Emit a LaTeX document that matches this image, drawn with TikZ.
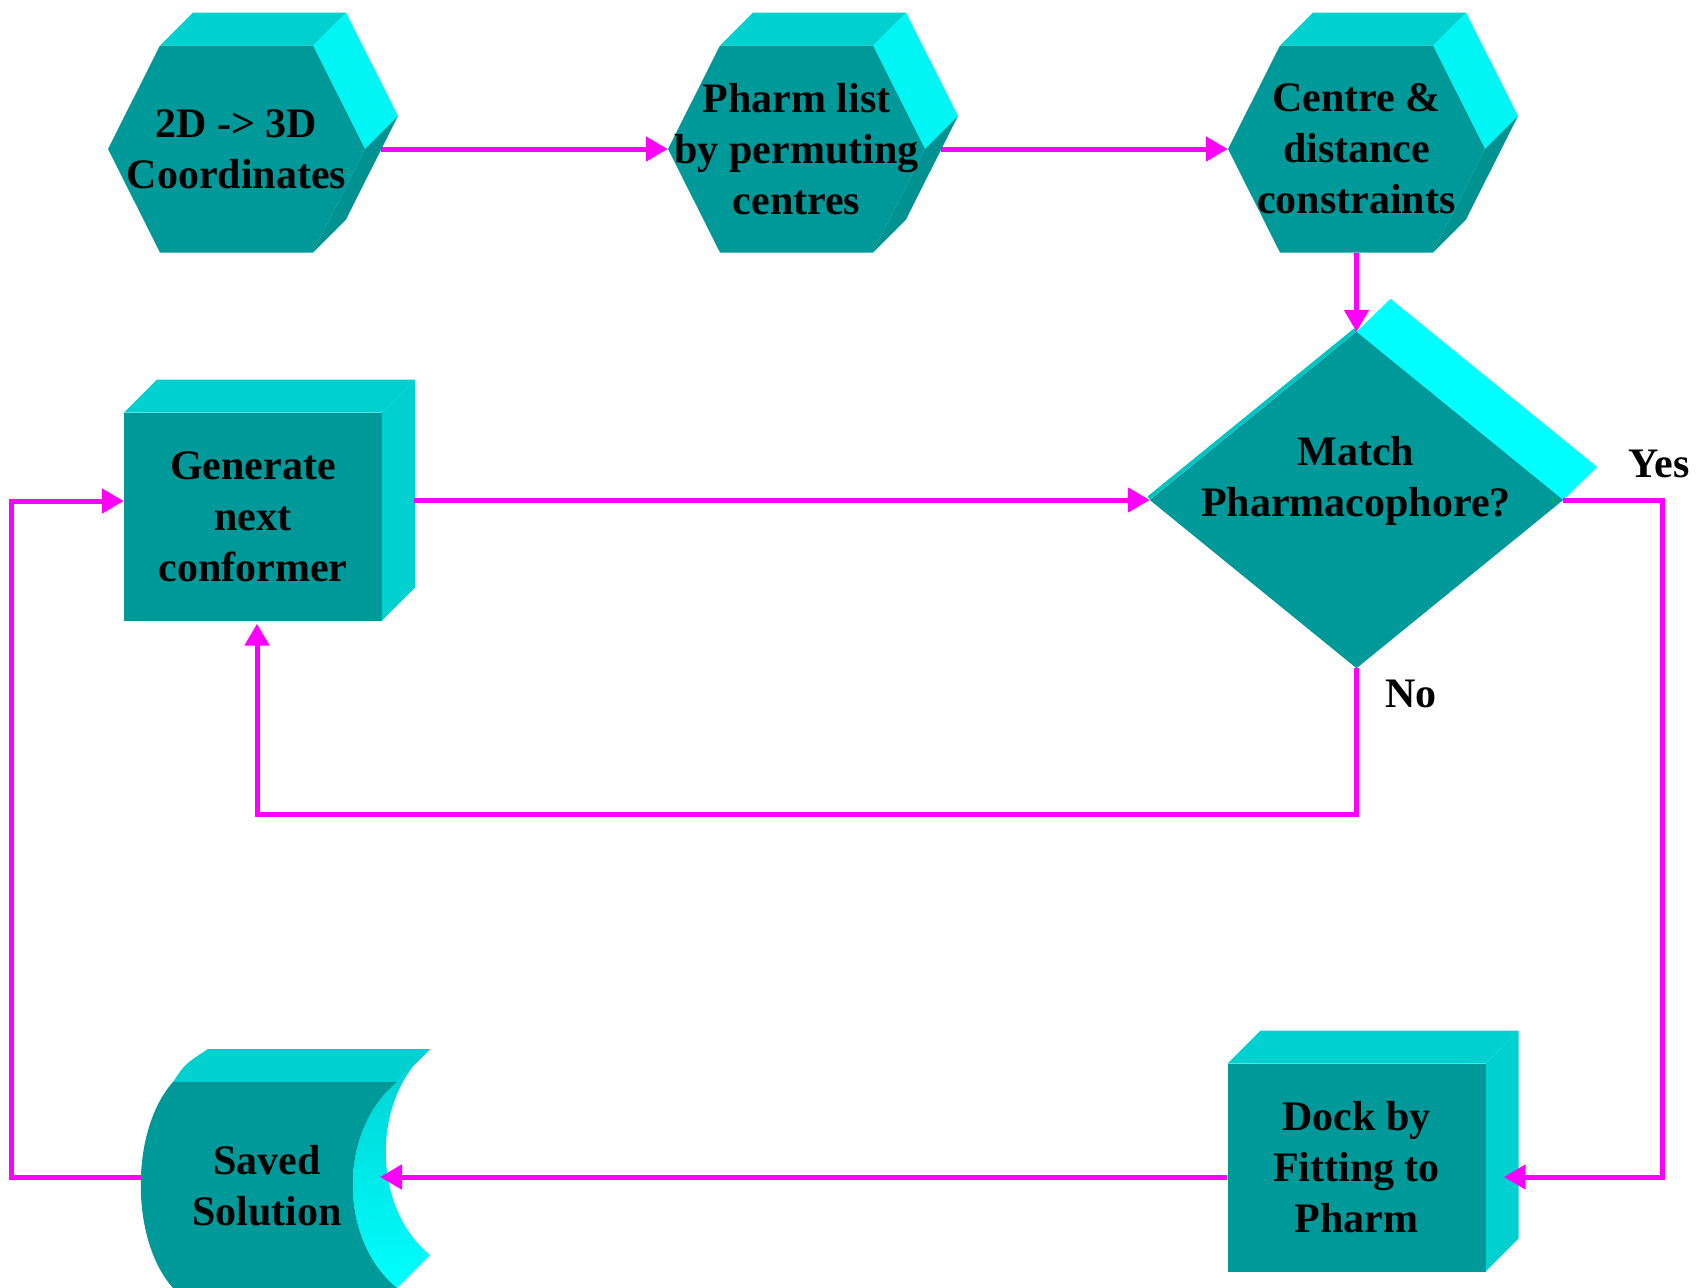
\documentclass[tikz,border=0pt]{standalone}
\usepackage{fontspec}
\setmainfont{Liberation Serif}
\usetikzlibrary{arrows.meta,calc}
\definecolor{tfront}{RGB}{0,153,153}
\definecolor{ttop}{RGB}{0,208,208}
\definecolor{tside}{RGB}{0,245,245}
\definecolor{tdark}{RGB}{0,145,145}
\definecolor{tcyan}{RGB}{0,255,255}
\definecolor{tstrip}{RGB}{0,195,195}
\definecolor{mag}{RGB}{255,0,255}
\pgfdeclarelayer{bg}
\pgfsetlayers{bg,main}
\tikzset{
  blk/.style={rectangle, inner sep=0pt, draw=none},
  txt/.style={align=center, font=\fontsize{42}{51}\selectfont\bfseries, inner sep=0pt, text=black},
  arr/.style={draw=mag, line width=5pt, -{Triangle[length=22pt,width=24pt]}},
}
\newcommand\hexbody[1]{%
  \begin{scope}[shift={(#1.center)}]
    \fill[ttop] (-76.5,-103.5) -- (-43.5,-136.5) -- (109.5,-136.5) -- (76.5,-103.5) -- cycle;
    \fill[tside] (76.5,-103.5) -- (109.5,-136.5) -- (161.5,-33) -- (128.5,0) -- cycle;
    \fill[tdark] (128.5,0) -- (161.5,-33) -- (109.5,70.5) -- (76.5,103.5) -- cycle;
    \fill[tfront] (-76.5,-103.5) -- (76.5,-103.5) -- (128.5,0) -- (76.5,103.5) -- (-76.5,103.5) -- (-128.5,0) -- cycle;
  \end{scope}}
\newcommand\boxbody[1]{%
  \begin{scope}[shift={(#1.center)}]
    \fill[ttop] (-129,-104) -- (-96,-137) -- (162,-137) -- (129,-104) -- cycle;
    \fill[ttop] (129,-104) -- (162,-137) -- (162,71) -- (129,104) -- cycle;
    \fill[tfront] (-129,-104) rectangle (129,104);
  \end{scope}}
\begin{document}
\begin{tikzpicture}[x=1pt,y=-1pt]
\useasboundingbox (0,0) rectangle (1698,1288);
% nodes
\node[blk,txt,minimum width=257pt,minimum height=207pt] (h1) at (236.5,149) {2D -> 3D\\Coordinates};
\node[blk,txt,minimum width=257pt,minimum height=207pt] (h2) at (796.5,149) {Pharm list\\by permuting\\centres};
\node[blk,txt,minimum width=257pt,minimum height=207pt] (h3) at (1356.5,149) {Centre \&\\distance\\constraints};
\node[blk,txt,minimum width=258pt,minimum height=208pt] (gen) at (253,516.5) {Generate\\next\\conformer};
\node[blk,txt,minimum width=258pt,minimum height=208pt] (dock) at (1356.5,1167.5) {Dock by\\Fitting to\\Pharm};
\node[blk,minimum width=413pt,minimum height=336pt] (dm) at (1356.5,500) {};
\node[txt] (dmt) at (1356,481) {Match\\Pharmacophore?};
\node[txt] (saved) at (267,1186) {Saved\\Solution};
\node[txt,anchor=base] (yes) at (1659,477) {Yes};
\node[txt,anchor=base] (no) at (1411,707) {No};
% bodies
\begin{pgfonlayer}{bg}
  \fill[white] (0,0) rectangle (1698,1288);
  \hexbody{h1}
  \hexbody{h2}
  \hexbody{h3}
  \boxbody{gen}
  \boxbody{dock}
  % diamond
  \fill[tcyan] (dm.north) -- ++(34,-33) -- ($(dm.east)+(34,-33)$) -- (dm.east) -- cycle;
  \draw[tstrip,line width=4pt] ($(dm.west)+(-1,-2)$) -- ($(dm.north)+(-1,-2)$);
  \fill[tfront] (dm.north) -- (dm.east) -- (dm.south) -- (dm.west) -- cycle;
  % saved solution
  \fill[ttop] (173,1082) .. controls (185,1064) .. (208,1049) -- (430,1049) -- (397,1082) -- cycle;
  \shade[top color=ttop, bottom color=tcyan] (397,1082) .. controls (338,1130) and (338,1240) .. (397,1288) -- (430,1255) .. controls (371,1207) and (371,1097) .. (430,1049) -- cycle;
  \fill[tfront] (173,1082) -- (397,1082) .. controls (338,1130) and (338,1240) .. (397,1288) -- (173,1288) .. controls (130,1240) and (130,1130) .. (173,1082) -- cycle;
\end{pgfonlayer}
% connectors
\draw[arr] ([xshift=16pt]h1.east) -- (h2.west);
\draw[arr] ([xshift=16pt]h2.east) -- (h3.west);
\draw[arr] (h3.south) -- (dm.north);
\draw[arr] ($(gen.east |- dm.west)+(32,0)$) -- (dm.west);
\draw[arr] (dm.east) -- ++(99,0) |- ($(dock.east)+(18,9.5)$);
\draw[arr] ($(dock.west)+(0,9.5)$) -- ($(saved.center)+(113,-9)$);
\draw[arr] (dm.south) -- ++(0,146) -| ($(gen.south)+(4,3)$);
\draw[arr] ($(saved.center)+(-126,-9)$) -- ++(-130,0) |- ($(gen.west)+(0,-15.5)$);
\end{tikzpicture}
\end{document}
